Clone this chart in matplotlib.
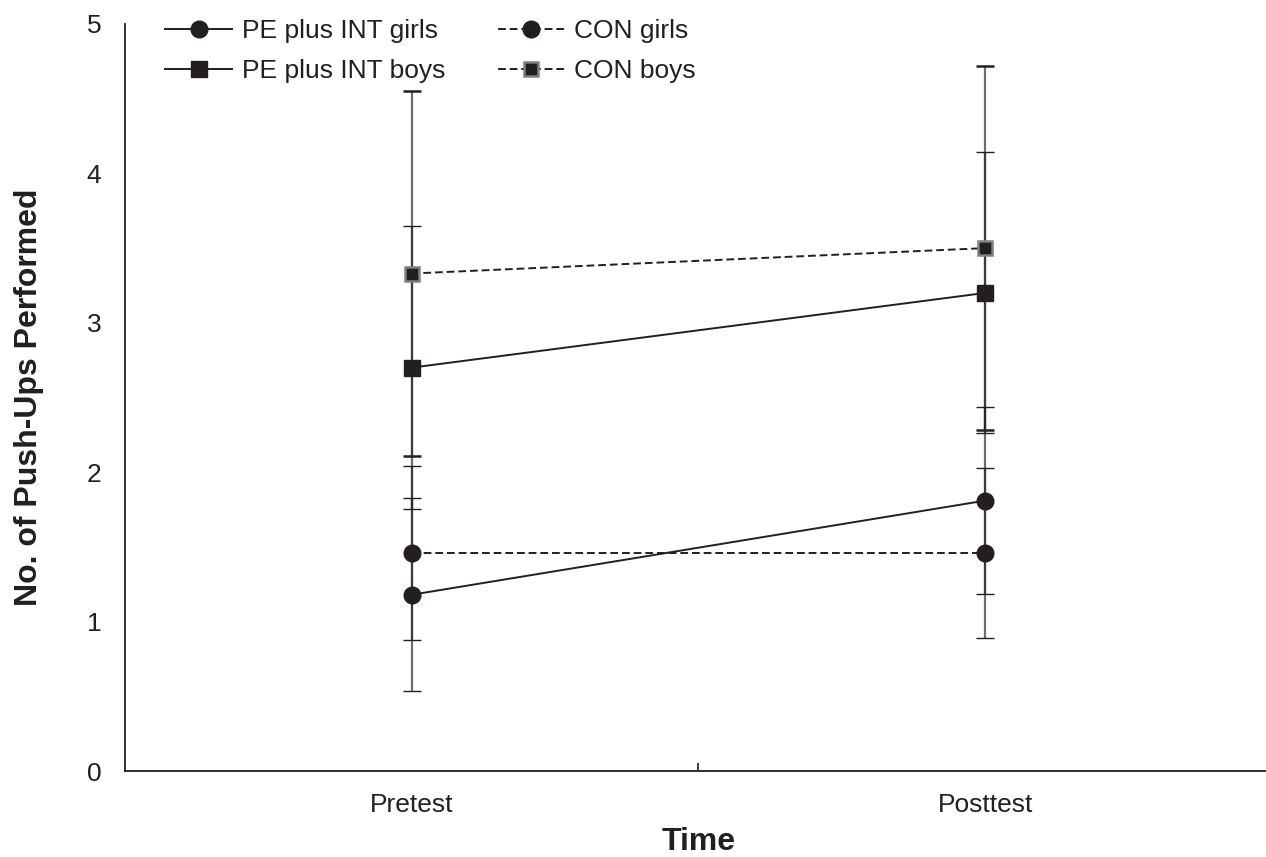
import matplotlib
matplotlib.use("Agg")
import matplotlib.pyplot as plt
from matplotlib.lines import Line2D

plt.rcParams['font.family'] = ['Liberation Sans', 'DejaVu Sans']

# data
times = ['Pretest', 'Posttest']
pe_girls = [1.18, 1.81]
pe_girls_sd = [0.645, 0.625]
con_girls = [1.46, 1.46]
con_girls_sd = [0.58, 0.57]
pe_boys = [2.70, 3.20]
pe_boys_sd = [0.945, 0.94]
con_boys = [3.33, 3.50]
con_boys_sd = [1.22, 1.22]

ink = '#231f20'
dash = (0, (4, 2))
xpos = [0.5, 1.5]

fig = plt.figure(figsize=(12.66, 8.57), dpi=100)
# axes runs a little past the right edge, like the original
ax = fig.add_axes([0.0987, 0.1003, 0.906, 0.8717])

eb_kw = dict(ecolor=ink, elinewidth=1.6, capsize=6.5, capthick=1.3)

series = [
    (pe_girls, pe_girls_sd, '-', 'o', 12, ink, 1.0, 'PE plus INT girls'),
    (pe_boys, pe_boys_sd, '-', 's', 11, ink, 1.0, 'PE plus INT boys'),
    (con_girls, con_girls_sd, dash, 'o', 12, ink, 1.0, 'CON girls'),
    (con_boys, con_boys_sd, dash, 's', 10, '#808080', 1.8, 'CON boys'),
]

handles = []
for vals, sd, ls, mk, ms, mec, mew, lab in series:
    eb = ax.errorbar(xpos, vals, yerr=sd, color=ink, lw=1.4, ls=ls, marker=mk, ms=ms,
                     mfc=ink, mec=mec, mew=mew, **eb_kw)
    for c in eb[2]:
        c.set_alpha(0.65)
    handles.append(Line2D([], [], color=ink, lw=1.4, ls=ls, marker=mk, ms=ms,
                          mfc=ink, mec=mec, mew=mew, label=lab))

ax.set_xlim(0, 2)
ax.set_ylim(0, 5)
ax.set_yticks([0, 1, 2, 3, 4, 5])
ax.tick_params(axis='y', length=0, pad=17, labelsize=19, colors=ink)
ax.set_xticks([1])
ax.set_xticklabels([''])
ax.tick_params(axis='x', which='major', direction='in', length=6, width=1.2, color=ink)
ax.set_xticks(xpos, minor=True)
ax.set_xticklabels(times, minor=True)
ax.tick_params(axis='x', which='minor', length=0, pad=16, labelsize=19, labelcolor=ink)

for s in ['top', 'right']:
    ax.spines[s].set_visible(False)
for s in ['left', 'bottom']:
    ax.spines[s].set_color(ink)
    ax.spines[s].set_linewidth(1.3)

ax.set_ylabel('No. of Push-Ups Performed', fontsize=23, fontweight='bold', color=ink, labelpad=31)
ax.set_xlabel('Time', fontsize=23, fontweight='bold', color=ink, labelpad=7)

leg = fig.legend(handles=handles, loc='upper left', bbox_to_anchor=(165 / 1266, 1 - 19 / 857),
                 ncol=2, frameon=False, fontsize=19, handlelength=2.55, handletextpad=0.35,
                 columnspacing=2.0, labelspacing=0.62, borderpad=0, borderaxespad=0)
for t in leg.get_texts():
    t.set_color(ink)

fig.savefig('out.png', dpi=100)
